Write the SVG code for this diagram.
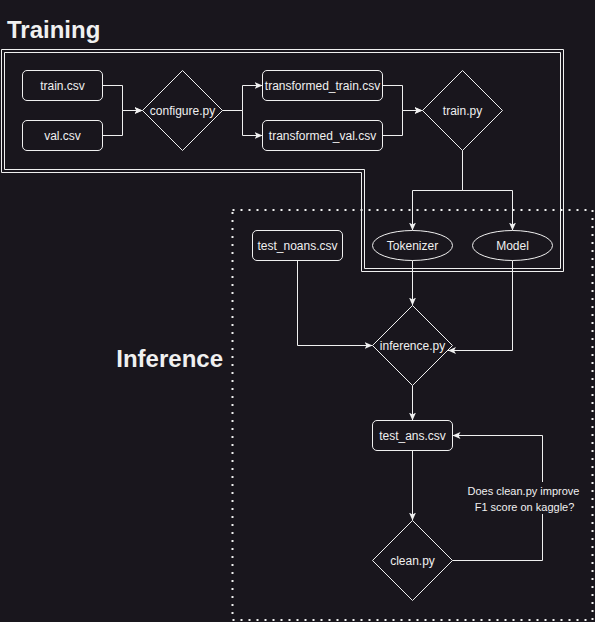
<svg xmlns="http://www.w3.org/2000/svg" width="595" height="622" viewBox="0 0 595 622">
<defs>
<style>
.bg{fill:#19161d}
.shape{fill:#19161d;stroke:#f0f0f0;stroke-width:1}
.frame{fill:none;stroke:#f0f0f0;stroke-width:1}
.dot{fill:none;stroke:#f0f0f0;stroke-width:2;stroke-dasharray:2 6}
.edge{fill:none;stroke:#f0f0f0;stroke-width:1}
.lbl{font-family:"Liberation Sans",Arial,sans-serif;font-size:12px;fill:#f0f0f0;text-anchor:middle;dominant-baseline:central}
.small{font-family:"Liberation Sans",Arial,sans-serif;font-size:11px;fill:#f0f0f0;text-anchor:middle}
.title{font-family:"Liberation Sans",Arial,sans-serif;font-size:24px;font-weight:bold;fill:#f0f0f0}
</style>
<marker id="arr" markerWidth="10" markerHeight="8" refX="8" refY="3.5" orient="auto" markerUnits="userSpaceOnUse">
<path d="M0,0 L8,3.5 L0,7 L2,3.5 z" fill="#f0f0f0"/>
</marker>
</defs>
<rect class="bg" x="0" y="0" width="595" height="622"/>

<g id="inference-frame">
<rect class="dot" x="232.5" y="210" width="360" height="410"/>
<text class="title" x="223" y="367" text-anchor="end">Inference</text>
</g>

<g id="training-frame">
<path class="frame" d="M1.5,49.5 H563.5 V271.5 H361.5 V172.5 H1.5 Z"/>
<path class="frame" d="M4.5,52.5 H560.5 V268.5 H364.5 V169.5 H4.5 Z"/>
<text class="title" x="7" y="38">Training</text>
</g>

<g id="connectors">
<path class="edge" d="M102.5,85.5 H122.5 V110.5 H142.5" marker-end="url(#arr)"/>
<path class="edge" d="M102.5,135.5 H122.5 V110.5 H142.5" marker-end="url(#arr)"/>
<path class="edge" d="M222.5,110.5 H242.5 V85.5 H262.5" marker-end="url(#arr)"/>
<path class="edge" d="M222.5,110.5 H242.5 V135.5 H262.5" marker-end="url(#arr)"/>
<path class="edge" d="M382.5,85.5 H402.5 V110.5 H422.5" marker-end="url(#arr)"/>
<path class="edge" d="M382.5,135.5 H402.5 V110.5 H422.5" marker-end="url(#arr)"/>
<path class="edge" d="M462.5,150.5 V190.5 H412.5 V230.5" marker-end="url(#arr)"/>
<path class="edge" d="M462.5,150.5 V190.5 H512.5 V230.5" marker-end="url(#arr)"/>
<path class="edge" d="M412.5,260.5 V305.5" marker-end="url(#arr)"/>
<path class="edge" d="M297.5,260.5 V345.5 H372.5" marker-end="url(#arr)"/>
<path class="edge" d="M512.5,260.5 V350.5 H448" marker-end="url(#arr)"/>
<path class="edge" d="M412.5,385.5 V420.5" marker-end="url(#arr)"/>
<path class="edge" d="M412.5,450.5 V520.5" marker-end="url(#arr)"/>
<path class="edge" d="M452.5,560.5 H542.5 V435.5 H452.5" marker-end="url(#arr)"/>
<rect class="bg" x="466" y="482" width="116" height="32"/>
<text class="small" x="523.5" y="495">Does clean.py improve</text>
<text class="small" x="524.5" y="510.5">F1 score on kaggle?</text>
</g>

<g id="train-csv">
<rect class="shape" x="22.5" y="70.5" width="80" height="30" rx="4.5"/>
<text class="lbl" x="62.5" y="85.5">train.csv</text>
</g>
<g id="val-csv">
<rect class="shape" x="22.5" y="120.5" width="80" height="30" rx="4.5"/>
<text class="lbl" x="62.5" y="135.5">val.csv</text>
</g>
<g id="configure-py">
<path class="shape" d="M182.5,70.5 L222.5,110.5 L182.5,150.5 L142.5,110.5 Z"/>
<text class="lbl" x="182.5" y="110.5">configure.py</text>
</g>
<g id="transformed-train">
<rect class="shape" x="262.5" y="70.5" width="120" height="30" rx="4.5"/>
<text class="lbl" x="322.5" y="85.5">transformed_train.csv</text>
</g>
<g id="transformed-val">
<rect class="shape" x="262.5" y="120.5" width="120" height="30" rx="4.5"/>
<text class="lbl" x="322.5" y="135.5">transformed_val.csv</text>
</g>
<g id="train-py">
<path class="shape" d="M462.5,70.5 L502.5,110.5 L462.5,150.5 L422.5,110.5 Z"/>
<text class="lbl" x="462.5" y="110.5">train.py</text>
</g>
<g id="tokenizer">
<ellipse class="shape" cx="412.5" cy="245.5" rx="40" ry="15"/>
<text class="lbl" x="412.5" y="245.5">Tokenizer</text>
</g>
<g id="model">
<ellipse class="shape" cx="512.5" cy="245.5" rx="40" ry="15"/>
<text class="lbl" x="512.5" y="245.5">Model</text>
</g>
<g id="test-noans">
<rect class="shape" x="252.5" y="230.5" width="90" height="30" rx="4.5"/>
<text class="lbl" x="297.5" y="245.5">test_noans.csv</text>
</g>
<g id="inference-py">
<path class="shape" d="M412.5,305.5 L452.5,345.5 L412.5,385.5 L372.5,345.5 Z"/>
<text class="lbl" x="412.5" y="345.5">inference.py</text>
</g>
<g id="test-ans">
<rect class="shape" x="372.5" y="420.5" width="80" height="30" rx="4.5"/>
<text class="lbl" x="412.5" y="435.5">test_ans.csv</text>
</g>
<g id="clean-py">
<path class="shape" d="M412.5,520.5 L452.5,560.5 L412.5,600.5 L372.5,560.5 Z"/>
<text class="lbl" x="412.5" y="560.5">clean.py</text>
</g>
</svg>
